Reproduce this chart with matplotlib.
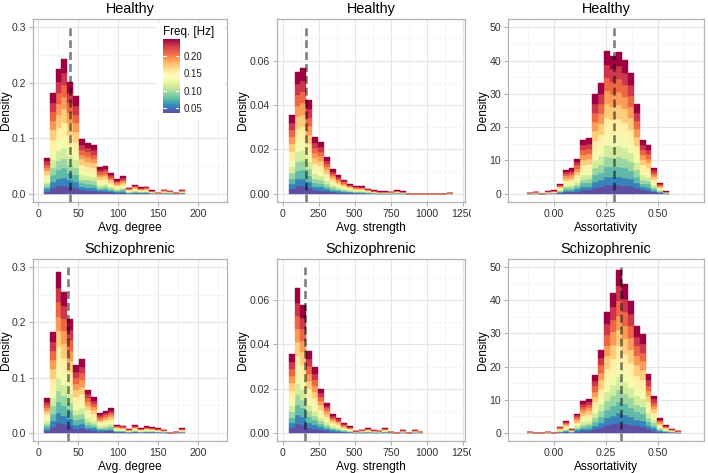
import numpy as np
import matplotlib
matplotlib.use('Agg')
import matplotlib.pyplot as plt
from matplotlib.patches import Rectangle
from matplotlib.transforms import Bbox, TransformedBbox

plt.rcParams['font.family'] = ['Liberation Sans', 'DejaVu Sans']

# frequency bands (colour layers, low -> high) and rough share of each band in a bar
freqs = [0.036, 0.055, 0.075, 0.094, 0.113, 0.132, 0.152, 0.171, 0.190, 0.209, 0.229, 0.248]
shares = [0.06, 0.06, 0.07, 0.07, 0.08, 0.09, 0.10, 0.10, 0.09, 0.09, 0.09, 0.10]

# Avg. degree (bins start 7.1, width 7.33)
deg_start, deg_width = 7.1, 7.33
deg_healthy = [0.0645, 0.181, 0.224, 0.242, 0.201, 0.176, 0.098, 0.092, 0.087, 0.048,
               0.050, 0.038, 0.026, 0.031, 0.011, 0.016, 0.0115, 0.0127, 0.006, 0.001,
               0.0072, 0.005, 0.002, 0.007]
deg_schizo = [0.0626, 0.183, 0.292, 0.255, 0.207, 0.122, 0.133, 0.078, 0.064, 0.035,
              0.040, 0.044, 0.0145, 0.0127, 0.0066, 0.0138, 0.0084, 0.0114, 0.0096, 0.0078,
              0.0054, 0.0, 0.002, 0.008]

# Avg. strength (bins start 41.4, width 40.7)
str_start, str_width = 41.4, 40.7
str_healthy = [0.0354, 0.0547, 0.0565, 0.0422, 0.0256, 0.0234, 0.0166, 0.011, 0.0083, 0.0063,
               0.0045, 0.0035, 0.0033, 0.0023, 0.0015, 0.001, 0.001, 0.0009, 0.0015, 0.001,
               0, 0, 0, 0, 0, 0, 0, 0.0003]
str_schizo = [0.0357, 0.0654, 0.0579, 0.0372, 0.0296, 0.0198, 0.0137, 0.0085, 0.0068, 0.0042,
              0.0029, 0.0007, 0.0014, 0.0021, 0.0012, 0.0009, 0.0021, 0.0005, 0.0, 0.0012,
              0.0, 0.0012, 0.0003]

# Assortativity (bins start -0.1285, width 0.0285)
ass_start, ass_width = -0.1285, 0.0285
ass_healthy = [0.2, 0.5, 0, 0.8, 1.0, 3.0, 7.2, 7.6, 10.5, 16.2, 16.7, 30.1, 33.3, 42.9,
               41.5, 42.5, 40.2, 36.3, 27.1, 16.1, 14.6, 7.8, 3.2, 0.7]
ass_schizo = [0.2, 0, 0, 0.2, 0, 1.8, 3.5, 1.2, 5.8, 9.5, 10.2, 17.3, 25.1, 36.6, 42.2,
              49.2, 45.0, 39.9, 32.3, 29.9, 17.6, 11.2, 4.3, 2.2, 1.2, 0.5]

# medians (dashed lines)
med_deg = [40, 37]
med_str = [163, 153]
med_ass = [0.292, 0.324]

W, H = 708, 473
fig = plt.figure(figsize=(W / 100, H / 100), dpi=100)

cmap = plt.get_cmap('Spectral_r')
fmin, fmax = 0.0357, 0.248
colors = [cmap((f - fmin) / (fmax - fmin)) for f in freqs]


def px_axes(x0, y0, x1, y1, **kw):
    return fig.add_axes([x0 / W, 1 - y1 / H, (x1 - x0) / W, (y1 - y0) / H], **kw)


def draw_panel(ax, start, width, totals, med, top, xlim, ylim, xticks, xlabels,
               xminor, yticks, ylabels, yminor, xlabel, title):
    tot = np.array(totals, dtype=float)
    lefts = start + width * np.arange(len(tot))
    bottom = np.zeros(len(tot))
    for share, c in zip(shares, colors):
        h = tot * share
        ax.bar(lefts, h, width=width, bottom=bottom, align='edge', color=c,
               edgecolor=c, linewidth=0.3, zorder=2)
        bottom += h
    ax.vlines(med, ylim[0], top, colors='black', alpha=0.5, linewidth=1.9,
              linestyles=(0, (3.0, 1.5)), zorder=3)
    ax.set_xlim(xlim)
    ax.set_ylim(ylim)
    ax.set_xticks(xticks)
    ax.set_xticklabels(xlabels)
    ax.set_xticks(xminor, minor=True)
    ax.set_yticks(yticks)
    ax.set_yticklabels(ylabels)
    ax.set_yticks(yminor, minor=True)
    ax.grid(True, which='major', color='#E6E6E6', linewidth=0.8, zorder=0)
    ax.grid(True, which='minor', color='#F3F3F3', linewidth=0.5, zorder=0)
    ax.set_axisbelow(True)
    ax.tick_params(which='major', length=3, width=0.8, color='#B3B3B3',
                   labelsize=7.6, labelcolor='#333333', pad=2)
    ax.tick_params(which='minor', length=0)
    for s in ax.spines.values():
        s.set_color('#B3B3B3')
        s.set_linewidth(0.9)
    ax.set_xlabel(xlabel, fontsize=8.6, labelpad=2)
    ax.set_ylabel('Density', fontsize=8.6)
    ax.set_title(title, fontsize=10.4, pad=4)


deg_kw = dict(start=deg_start, width=deg_width, top=0.3, xlim=(-6.5, 236), ylim=(-0.015, 0.315),
              xticks=[0, 50, 100, 150, 200], xlabels=['0', '50', '100', '150', '200'],
              xminor=[25, 75, 125, 175, 225], yticks=[0, 0.1, 0.2, 0.3],
              ylabels=['0.0', '0.1', '0.2', '0.3'], yminor=[0.05, 0.15, 0.25],
              xlabel='Avg. degree')
str_kw = dict(start=str_start, width=str_width, top=0.075, xlim=(-40, 1266),
              ylim=(-0.00375, 0.07875),
              xticks=[0, 250, 500, 750, 1000, 1250],
              xlabels=['0', '250', '500', '750', '1000', '1250'],
              xminor=[125, 375, 625, 875, 1125], yticks=[0, 0.02, 0.04, 0.06],
              ylabels=['0.00', '0.02', '0.04', '0.06'], yminor=[0.01, 0.03, 0.05, 0.07],
              xlabel='Avg. strength')
ass_kw = dict(start=ass_start, width=ass_width, top=50, xlim=(-0.22, 0.7226), ylim=(-2.5, 52.5),
              xticks=[0, 0.25, 0.5], xlabels=['0.00', '0.25', '0.50'],
              xminor=[-0.125, 0.125, 0.375, 0.625], yticks=[0, 10, 20, 30, 40, 50],
              ylabels=['0', '10', '20', '30', '40', '50'], yminor=[5, 15, 25, 35, 45],
              xlabel='Assortativity')

rows = [(19, 202, 'Healthy', 0), (259, 441, 'Schizophrenic', 1)]
# x0, x1, settings, data, medians, pixel x of the y label's right edge
cols = [(33, 227, deg_kw, [deg_healthy, deg_schizo], med_deg, 12),
        (277, 465, str_kw, [str_healthy, str_schizo], med_str, 249),
        (508, 704, ass_kw, [ass_healthy, ass_schizo], med_ass, 489)]

first_ax = None
for y0, y1, title, r in rows:
    for ci, (x0, x1, kw, data, meds, ylab_x) in enumerate(cols):
        ax = px_axes(x0, y0, x1, y1)
        draw_panel(ax, totals=data[r], med=meds[r], title=title, **kw)
        ax.yaxis.set_label_coords((ylab_x - x0) / (x1 - x0), 0.5)
        if r == 0 and ci == 0:
            first_ax = ax
        if ci == 1:
            # last tick label is cut at the panel's edge
            clip = TransformedBbox(Bbox.from_extents(236 / W, 0, 471 / W, 1), fig.transFigure)
            lab = ax.xaxis.get_major_ticks()[-1].label1
            lab.set_clip_box(clip)
            lab.set_clip_on(True)

# legend (colour bar) inside the first panel
first_ax.add_patch(Rectangle((156 / W, 1 - 120 / H), 68 / W, 96 / H, transform=fig.transFigure,
                             facecolor='white', edgecolor='none', zorder=5))
cax = px_axes(162.7, 39.3, 179.3, 113.3)
grad = np.linspace(fmin, fmax, 256).reshape(-1, 1)
cax.imshow(grad, extent=[0, 1, fmin, fmax], origin='lower', aspect='auto', cmap='Spectral_r')
cbar_ticks = [0.05, 0.10, 0.15, 0.20]
for t in cbar_ticks:
    cax.plot([0, 0.2], [t, t], color='white', lw=0.8)
    cax.plot([0.8, 1], [t, t], color='white', lw=0.8)
cax.set_xlim(0, 1)
cax.set_ylim(fmin, fmax)
cax.set_xticks([])
cax.yaxis.tick_right()
cax.set_yticks(cbar_ticks)
cax.set_yticklabels(['0.05', '0.10', '0.15', '0.20'])
cax.tick_params(length=0, labelsize=7.0, pad=3, labelcolor='#222222')
for s in cax.spines.values():
    s.set_visible(False)
fig.text(162.7 / W, 1 - 32 / H, 'Freq. [Hz]', fontsize=8.4, ha='left', va='center')

fig.savefig('out.png', dpi=100)
